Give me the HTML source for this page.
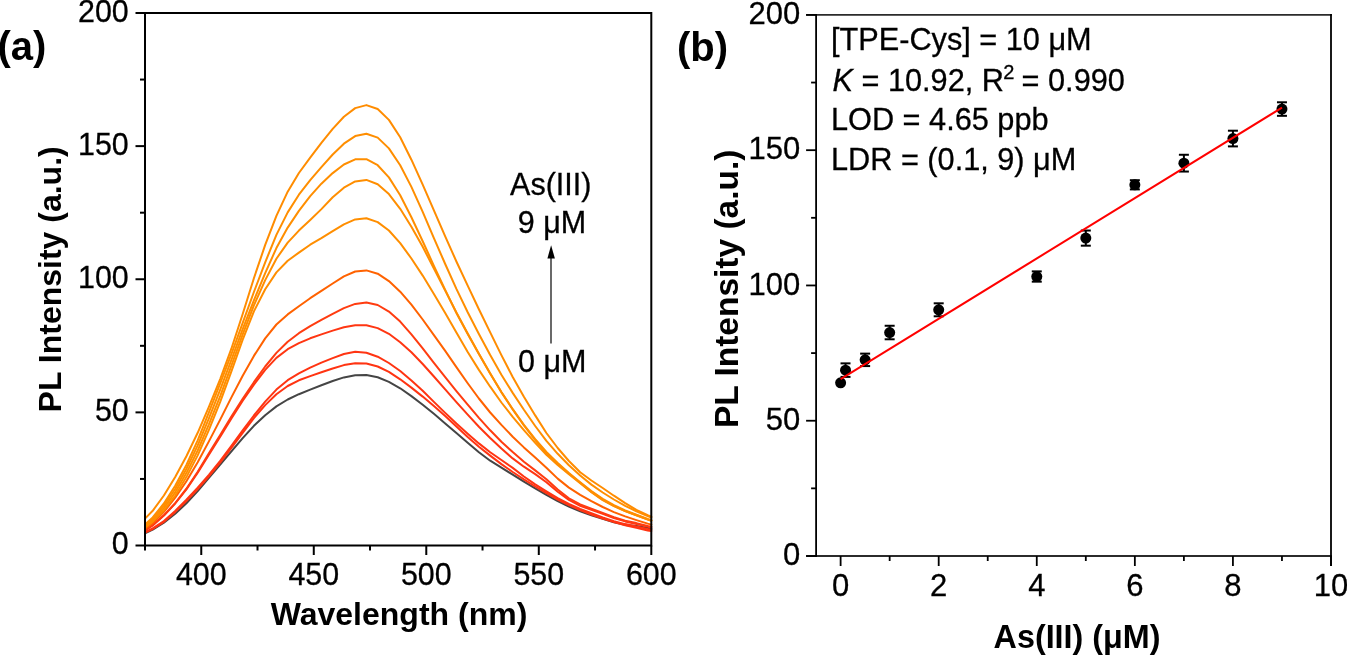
<!DOCTYPE html><html><head><meta charset="utf-8"><style>html,body{margin:0;padding:0;background:#fff;width:1347px;height:655px;overflow:hidden}svg{display:block;will-change:transform}text{font-family:"Liberation Sans",sans-serif}</style></head><body>
<svg width="1347" height="655" viewBox="0 0 1347 655">
<rect width="1347" height="655" fill="#fff"/>
<path d="M145.0,533.3 L152.7,529.7 L163.9,522.6 L175.2,513.8 L186.4,503.3 L197.7,491.1 L208.9,477.8 L220.2,464.5 L231.4,451.3 L242.7,438.1 L253.9,425.8 L265.2,415.2 L276.4,406.4 L287.7,399.5 L298.9,394.2 L310.2,389.6 L321.4,385.3 L332.7,381.0 L343.9,377.4 L355.2,375.2 L366.4,375.1 L377.7,377.3 L388.9,381.9 L400.2,388.3 L411.4,396.1 L422.7,404.7 L433.9,413.8 L445.2,423.4 L456.4,433.1 L467.7,442.7 L478.9,452.3 L490.2,460.7 L501.4,467.7 L512.7,474.7 L523.9,481.7 L535.2,488.4 L546.4,494.8 L557.7,501.2 L568.9,506.6 L580.2,511.3 L591.4,515.2 L602.7,518.9 L613.9,522.3 L625.2,524.9 L636.4,526.0 L647.7,528.0 L651.3,528.7" fill="none" stroke="#454545" stroke-width="2" stroke-linejoin="round" stroke-linecap="round"/>
<path d="M145.0,532.6 L152.7,529.0 L163.9,521.8 L175.2,511.9 L186.4,501.0 L197.7,489.0 L208.9,476.3 L220.2,462.6 L231.4,447.8 L242.7,432.8 L253.9,418.2 L265.2,405.1 L276.4,394.2 L287.7,386.0 L298.9,380.3 L310.2,376.1 L321.4,372.3 L332.7,368.5 L343.9,365.1 L355.2,363.2 L366.4,363.5 L377.7,366.5 L388.9,371.9 L400.2,379.3 L411.4,387.6 L422.7,396.6 L433.9,406.1 L445.2,416.1 L456.4,426.5 L467.7,437.1 L478.9,446.7 L490.2,455.6 L501.4,464.1 L512.7,472.0 L523.9,479.4 L535.2,486.5 L546.4,493.2 L557.7,499.6 L568.9,505.2 L580.2,510.1 L591.4,514.6 L602.7,518.6 L613.9,522.1 L625.2,525.2 L636.4,527.9 L647.7,530.4 L651.3,531.1" fill="none" stroke="#ff3412" stroke-width="2" stroke-linejoin="round" stroke-linecap="round"/>
<path d="M145.0,532.1 L152.7,528.4 L163.9,521.0 L175.2,510.9 L186.4,499.8 L197.7,487.7 L208.9,474.8 L220.2,460.9 L231.4,445.8 L242.7,430.4 L253.9,415.5 L265.2,401.6 L276.4,389.6 L287.7,380.2 L298.9,373.3 L310.2,367.7 L321.4,362.6 L332.7,358.1 L343.9,354.0 L355.2,351.8 L366.4,352.7 L377.7,356.7 L388.9,363.0 L400.2,371.0 L411.4,380.4 L422.7,390.8 L433.9,401.9 L445.2,412.9 L456.4,423.5 L467.7,433.7 L478.9,443.4 L490.2,452.2 L501.4,460.0 L512.7,467.9 L523.9,476.5 L535.2,484.4 L546.4,491.3 L557.7,498.1 L568.9,504.0 L580.2,509.0 L591.4,513.3 L602.7,517.4 L613.9,521.1 L625.2,524.1 L636.4,526.5 L647.7,529.0 L651.3,529.7" fill="none" stroke="#ff3412" stroke-width="2" stroke-linejoin="round" stroke-linecap="round"/>
<path d="M145.0,530.5 L152.7,525.5 L163.9,515.6 L175.2,503.5 L186.4,489.4 L197.7,472.7 L208.9,454.7 L220.2,436.6 L231.4,418.5 L242.7,400.8 L253.9,384.6 L265.2,369.9 L276.4,357.9 L287.7,349.2 L298.9,343.1 L310.2,338.3 L321.4,334.4 L332.7,330.6 L343.9,327.3 L355.2,325.3 L366.4,325.3 L377.7,328.1 L388.9,333.8 L400.2,342.2 L411.4,352.3 L422.7,364.0 L433.9,376.5 L445.2,389.4 L456.4,402.2 L467.7,414.7 L478.9,426.7 L490.2,438.0 L501.4,448.6 L512.7,458.4 L523.9,466.7 L535.2,474.1 L546.4,482.3 L557.7,491.8 L568.9,499.9 L580.2,505.8 L591.4,509.9 L602.7,513.9 L613.9,518.0 L625.2,521.4 L636.4,523.9 L647.7,526.6 L651.3,527.4" fill="none" stroke="#ff3612" stroke-width="2" stroke-linejoin="round" stroke-linecap="round"/>
<path d="M145.0,530.1 L152.7,525.1 L163.9,515.3 L175.2,503.1 L186.4,488.7 L197.7,471.7 L208.9,453.3 L220.2,434.9 L231.4,416.6 L242.7,398.9 L253.9,382.2 L265.2,366.5 L276.4,352.9 L287.7,341.8 L298.9,333.2 L310.2,326.2 L321.4,319.9 L332.7,313.8 L343.9,308.1 L355.2,303.9 L366.4,302.5 L377.7,305.0 L388.9,311.6 L400.2,321.6 L411.4,334.3 L422.7,348.3 L433.9,362.9 L445.2,377.2 L456.4,391.1 L467.7,404.7 L478.9,417.8 L490.2,430.3 L501.4,441.7 L512.7,452.1 L523.9,461.7 L535.2,470.4 L546.4,479.2 L557.7,489.5 L568.9,498.3 L580.2,504.5 L591.4,508.7 L602.7,513.0 L613.9,517.3 L625.2,520.8 L636.4,523.1 L647.7,525.9 L651.3,526.7" fill="none" stroke="#ff3c10" stroke-width="2" stroke-linejoin="round" stroke-linecap="round"/>
<path d="M145.0,529.0 L152.7,523.2 L163.9,511.9 L175.2,497.7 L186.4,481.2 L197.7,462.2 L208.9,441.4 L220.2,419.6 L231.4,397.4 L242.7,375.8 L253.9,355.9 L265.2,338.4 L276.4,324.5 L287.7,314.4 L298.9,306.2 L310.2,298.2 L321.4,290.9 L332.7,283.5 L343.9,276.4 L355.2,271.5 L366.4,270.4 L377.7,273.7 L388.9,281.1 L400.2,291.7 L411.4,304.7 L422.7,319.5 L433.9,335.1 L445.2,350.9 L456.4,367.1 L467.7,383.2 L478.9,398.5 L490.2,412.5 L501.4,424.9 L512.7,436.7 L523.9,447.4 L535.2,457.4 L546.4,467.7 L557.7,478.6 L568.9,487.6 L580.2,494.9 L591.4,501.2 L602.7,507.0 L613.9,512.1 L625.2,516.4 L636.4,520.1 L647.7,523.6 L651.3,524.6" fill="none" stroke="#ff6200" stroke-width="2" stroke-linejoin="round" stroke-linecap="round"/>
<path d="M145.0,527.4 L152.7,521.6 L163.9,510.6 L175.2,495.5 L186.4,477.1 L197.7,455.4 L208.9,429.9 L220.2,401.9 L231.4,371.3 L242.7,339.6 L253.9,311.4 L265.2,289.3 L276.4,272.4 L287.7,260.8 L298.9,252.6 L310.2,244.7 L321.4,238.2 L332.7,231.2 L343.9,224.3 L355.2,219.4 L366.4,218.3 L377.7,222.1 L388.9,230.5 L400.2,243.2 L411.4,258.5 L422.7,275.6 L433.9,293.9 L445.2,313.0 L456.4,332.5 L467.7,352.0 L478.9,369.9 L490.2,386.7 L501.4,402.5 L512.7,416.9 L523.9,430.1 L535.2,442.9 L546.4,454.7 L557.7,465.0 L568.9,474.3 L580.2,483.1 L591.4,492.2 L602.7,500.1 L613.9,506.1 L625.2,511.1 L636.4,515.3 L647.7,519.5 L651.3,520.7" fill="none" stroke="#ff8e00" stroke-width="2" stroke-linejoin="round" stroke-linecap="round"/>
<path d="M145.0,526.5 L152.7,520.2 L163.9,508.2 L175.2,492.3 L186.4,473.1 L197.7,450.5 L208.9,424.3 L220.2,396.1 L231.4,365.7 L242.7,334.4 L253.9,305.4 L265.2,280.1 L276.4,258.7 L287.7,242.6 L298.9,230.6 L310.2,220.0 L321.4,209.1 L332.7,197.3 L343.9,187.7 L355.2,181.4 L366.4,179.9 L377.7,184.2 L388.9,194.1 L400.2,208.8 L411.4,226.7 L422.7,246.8 L433.9,268.5 L445.2,290.6 L456.4,312.4 L467.7,333.5 L478.9,353.8 L490.2,373.5 L501.4,392.2 L512.7,409.4 L523.9,425.3 L535.2,440.0 L546.4,453.0 L557.7,463.7 L568.9,473.5 L580.2,482.8 L591.4,491.9 L602.7,499.6 L613.9,505.9 L625.2,511.1 L636.4,515.3 L647.7,519.4 L651.3,520.6" fill="none" stroke="#ff8e00" stroke-width="2" stroke-linejoin="round" stroke-linecap="round"/>
<path d="M145.0,525.4 L152.7,518.8 L163.9,505.8 L175.2,489.0 L186.4,469.0 L197.7,445.4 L208.9,418.3 L220.2,389.7 L231.4,359.9 L242.7,329.2 L253.9,300.3 L265.2,273.1 L276.4,248.1 L287.7,227.6 L298.9,210.9 L310.2,196.1 L321.4,183.7 L332.7,173.1 L343.9,164.5 L355.2,159.3 L366.4,159.2 L377.7,165.2 L388.9,177.4 L400.2,195.2 L411.4,217.2 L422.7,241.2 L433.9,265.8 L445.2,289.9 L456.4,313.0 L467.7,334.0 L478.9,354.0 L490.2,373.6 L501.4,392.1 L512.7,409.2 L523.9,424.9 L535.2,439.2 L546.4,452.0 L557.7,463.0 L568.9,472.9 L580.2,482.2 L591.4,491.1 L602.7,498.9 L613.9,505.2 L625.2,510.5 L636.4,514.8 L647.7,519.0 L651.3,520.2" fill="none" stroke="#ff8e00" stroke-width="2" stroke-linejoin="round" stroke-linecap="round"/>
<path d="M145.0,524.5 L152.7,517.4 L163.9,503.5 L175.2,485.8 L186.4,465.0 L197.7,440.4 L208.9,412.4 L220.2,383.5 L231.4,354.1 L242.7,322.9 L253.9,292.0 L265.2,262.3 L276.4,234.9 L287.7,212.4 L298.9,194.7 L310.2,180.2 L321.4,167.1 L332.7,154.5 L343.9,143.7 L355.2,136.1 L366.4,133.7 L377.7,137.6 L388.9,148.4 L400.2,165.3 L411.4,186.9 L422.7,211.8 L433.9,238.1 L445.2,264.0 L456.4,288.9 L467.7,312.3 L478.9,334.0 L490.2,355.0 L501.4,374.7 L512.7,392.9 L523.9,409.8 L535.2,426.0 L546.4,440.9 L557.7,453.8 L568.9,465.2 L580.2,475.5 L591.4,484.6 L602.7,492.5 L613.9,499.5 L625.2,505.8 L636.4,511.3 L647.7,516.1 L651.3,517.5" fill="none" stroke="#ff8e00" stroke-width="2" stroke-linejoin="round" stroke-linecap="round"/>
<path d="M145.0,518.6 L152.7,510.8 L163.9,495.5 L175.2,477.0 L186.4,456.2 L197.7,432.8 L208.9,406.8 L220.2,379.1 L231.4,348.7 L242.7,314.0 L253.9,278.2 L265.2,244.9 L276.4,215.8 L287.7,191.7 L298.9,173.0 L310.2,157.6 L321.4,142.9 L332.7,128.9 L343.9,116.7 L355.2,108.1 L366.4,105.1 L377.7,109.0 L388.9,119.9 L400.2,137.3 L411.4,159.7 L422.7,184.6 L433.9,210.4 L445.2,236.3 L456.4,261.5 L467.7,285.6 L478.9,309.3 L490.2,332.4 L501.4,355.1 L512.7,377.0 L523.9,396.7 L535.2,415.4 L546.4,433.0 L557.7,448.0 L568.9,461.0 L580.2,472.2 L591.4,480.5 L602.7,488.0 L613.9,495.7 L625.2,503.1 L636.4,509.9 L647.7,515.1 L651.3,516.6" fill="none" stroke="#ff8c00" stroke-width="2" stroke-linejoin="round" stroke-linecap="round"/>
<g stroke="#000" stroke-width="2.00" fill="none" stroke-linecap="butt">
<rect x="145.00" y="13.00" width="506.30" height="532.50"/>
<line x1="135.50" y1="545.50" x2="145.00" y2="545.50"/>
<line x1="140.00" y1="478.94" x2="145.00" y2="478.94"/>
<line x1="135.50" y1="412.38" x2="145.00" y2="412.38"/>
<line x1="140.00" y1="345.81" x2="145.00" y2="345.81"/>
<line x1="135.50" y1="279.25" x2="145.00" y2="279.25"/>
<line x1="140.00" y1="212.69" x2="145.00" y2="212.69"/>
<line x1="135.50" y1="146.12" x2="145.00" y2="146.12"/>
<line x1="140.00" y1="79.56" x2="145.00" y2="79.56"/>
<line x1="135.50" y1="13.00" x2="145.00" y2="13.00"/>
<line x1="145.00" y1="545.50" x2="145.00" y2="550.50"/>
<line x1="201.26" y1="545.50" x2="201.26" y2="555.00"/>
<line x1="257.51" y1="545.50" x2="257.51" y2="550.50"/>
<line x1="313.77" y1="545.50" x2="313.77" y2="555.00"/>
<line x1="370.02" y1="545.50" x2="370.02" y2="550.50"/>
<line x1="426.28" y1="545.50" x2="426.28" y2="555.00"/>
<line x1="482.53" y1="545.50" x2="482.53" y2="550.50"/>
<line x1="538.79" y1="545.50" x2="538.79" y2="555.00"/>
<line x1="595.04" y1="545.50" x2="595.04" y2="550.50"/>
<line x1="651.30" y1="545.50" x2="651.30" y2="555.00"/>
</g>
<g stroke="#000" stroke-width="1.8" fill="none">
<line x1="806.10" y1="14.90" x2="1331.90" y2="14.90" stroke="#2b2b2b"/>
<line x1="806.10" y1="556.00" x2="1331.90" y2="556.00" stroke="#2b2b2b"/>
<line x1="816.10" y1="14.00" x2="816.10" y2="556.90"/>
<line x1="1331.00" y1="14.00" x2="1331.00" y2="566.00"/>
<line x1="806.10" y1="556.00" x2="816.10" y2="556.00"/>
<line x1="811.10" y1="488.36" x2="816.10" y2="488.36"/>
<line x1="806.10" y1="420.73" x2="816.10" y2="420.73"/>
<line x1="811.10" y1="353.09" x2="816.10" y2="353.09"/>
<line x1="806.10" y1="285.45" x2="816.10" y2="285.45"/>
<line x1="811.10" y1="217.81" x2="816.10" y2="217.81"/>
<line x1="806.10" y1="150.18" x2="816.10" y2="150.18"/>
<line x1="811.10" y1="82.54" x2="816.10" y2="82.54"/>
<line x1="806.10" y1="14.90" x2="816.10" y2="14.90"/>
<line x1="840.62" y1="556.00" x2="840.62" y2="566.00"/>
<line x1="889.66" y1="556.00" x2="889.66" y2="561.00"/>
<line x1="938.70" y1="556.00" x2="938.70" y2="566.00"/>
<line x1="987.73" y1="556.00" x2="987.73" y2="561.00"/>
<line x1="1036.77" y1="556.00" x2="1036.77" y2="566.00"/>
<line x1="1085.81" y1="556.00" x2="1085.81" y2="561.00"/>
<line x1="1134.85" y1="556.00" x2="1134.85" y2="566.00"/>
<line x1="1183.89" y1="556.00" x2="1183.89" y2="561.00"/>
<line x1="1232.92" y1="556.00" x2="1232.92" y2="566.00"/>
<line x1="1281.96" y1="556.00" x2="1281.96" y2="561.00"/>
<line x1="1331.00" y1="556.00" x2="1331.00" y2="566.00"/>
</g>
<g stroke="#000" stroke-width="2" fill="#000">
<circle cx="840.62" cy="382.85" r="5.5" stroke="none"/>
<line x1="845.52" y1="363.37" x2="845.52" y2="376.90"/>
<line x1="840.52" y1="363.37" x2="850.52" y2="363.37"/>
<line x1="840.52" y1="376.90" x2="850.52" y2="376.90"/>
<circle cx="845.52" cy="370.13" r="5.5" stroke="none"/>
<line x1="865.14" y1="353.63" x2="865.14" y2="366.07"/>
<line x1="860.14" y1="353.63" x2="870.14" y2="353.63"/>
<line x1="860.14" y1="366.07" x2="870.14" y2="366.07"/>
<circle cx="865.14" cy="359.85" r="5.5" stroke="none"/>
<line x1="889.66" y1="325.76" x2="889.66" y2="339.29"/>
<line x1="884.66" y1="325.76" x2="894.66" y2="325.76"/>
<line x1="884.66" y1="339.29" x2="894.66" y2="339.29"/>
<circle cx="889.66" cy="332.53" r="5.5" stroke="none"/>
<line x1="938.70" y1="303.31" x2="938.70" y2="316.29"/>
<line x1="933.70" y1="303.31" x2="943.70" y2="303.31"/>
<line x1="933.70" y1="316.29" x2="943.70" y2="316.29"/>
<circle cx="938.70" cy="309.80" r="5.5" stroke="none"/>
<line x1="1036.77" y1="271.38" x2="1036.77" y2="281.66"/>
<line x1="1031.77" y1="271.38" x2="1041.77" y2="271.38"/>
<line x1="1031.77" y1="281.66" x2="1041.77" y2="281.66"/>
<circle cx="1036.77" cy="276.52" r="5.5" stroke="none"/>
<line x1="1085.81" y1="230.53" x2="1085.81" y2="245.68"/>
<line x1="1080.81" y1="230.53" x2="1090.81" y2="230.53"/>
<line x1="1080.81" y1="245.68" x2="1090.81" y2="245.68"/>
<circle cx="1085.81" cy="238.10" r="5.5" stroke="none"/>
<line x1="1134.85" y1="180.21" x2="1134.85" y2="189.40"/>
<line x1="1129.85" y1="180.21" x2="1139.85" y2="180.21"/>
<line x1="1129.85" y1="189.40" x2="1139.85" y2="189.40"/>
<circle cx="1134.85" cy="184.81" r="5.5" stroke="none"/>
<line x1="1183.89" y1="154.77" x2="1183.89" y2="171.55"/>
<line x1="1178.89" y1="154.77" x2="1188.89" y2="154.77"/>
<line x1="1178.89" y1="171.55" x2="1188.89" y2="171.55"/>
<circle cx="1183.89" cy="163.16" r="5.5" stroke="none"/>
<line x1="1232.92" y1="130.70" x2="1232.92" y2="146.39"/>
<line x1="1227.92" y1="130.70" x2="1237.92" y2="130.70"/>
<line x1="1227.92" y1="146.39" x2="1237.92" y2="146.39"/>
<circle cx="1232.92" cy="138.54" r="5.5" stroke="none"/>
<line x1="1281.96" y1="102.29" x2="1281.96" y2="115.82"/>
<line x1="1276.96" y1="102.29" x2="1286.96" y2="102.29"/>
<line x1="1276.96" y1="115.82" x2="1286.96" y2="115.82"/>
<circle cx="1281.96" cy="109.05" r="5.5" stroke="none"/>
</g>
<line x1="840.6" y1="379.1" x2="1282" y2="107.6" stroke="#f00" stroke-width="2"/>
<text transform="translate(-2.50,60.30) scale(1,1.000)" x="0" y="0" font-size="40.00" font-weight="bold" text-anchor="start">(a)</text>
<text transform="translate(128.70,554.10) scale(1,1.050)" x="0" y="0" font-size="30.40" stroke="#000" stroke-width="0.3" text-anchor="end">0</text>
<text transform="translate(128.70,420.98) scale(1,1.050)" x="0" y="0" font-size="30.40" stroke="#000" stroke-width="0.3" text-anchor="end">50</text>
<text transform="translate(128.70,287.85) scale(1,1.050)" x="0" y="0" font-size="30.40" stroke="#000" stroke-width="0.3" text-anchor="end">100</text>
<text transform="translate(128.70,154.72) scale(1,1.050)" x="0" y="0" font-size="30.40" stroke="#000" stroke-width="0.3" text-anchor="end">150</text>
<text transform="translate(128.70,21.60) scale(1,1.050)" x="0" y="0" font-size="30.40" stroke="#000" stroke-width="0.3" text-anchor="end">200</text>
<text transform="translate(201.26,584.80) scale(1,1.050)" x="0" y="0" font-size="30.40" stroke="#000" stroke-width="0.3" text-anchor="middle">400</text>
<text transform="translate(313.77,584.80) scale(1,1.050)" x="0" y="0" font-size="30.40" stroke="#000" stroke-width="0.3" text-anchor="middle">450</text>
<text transform="translate(426.28,584.80) scale(1,1.050)" x="0" y="0" font-size="30.40" stroke="#000" stroke-width="0.3" text-anchor="middle">500</text>
<text transform="translate(538.79,584.80) scale(1,1.050)" x="0" y="0" font-size="30.40" stroke="#000" stroke-width="0.3" text-anchor="middle">550</text>
<text transform="translate(651.30,584.80) scale(1,1.050)" x="0" y="0" font-size="30.40" stroke="#000" stroke-width="0.3" text-anchor="middle">600</text>
<text transform="translate(270.70,625.20) scale(1,1.000)" x="0" y="0" font-size="32.00" font-weight="bold" text-anchor="start">Wavelength (nm)</text>
<text transform="translate(60.90,412.40) rotate(-90)" font-size="32.00" font-weight="bold" x="0" y="0">PL Intensity (a.u.)</text>
<text transform="translate(510.10,194.60) scale(1,1.000)" x="0" y="0" font-size="30.50" stroke="#000" stroke-width="0.3" text-anchor="start">As(III)</text>
<text transform="translate(517.80,232.50) scale(1,1.000)" x="0" y="0" font-size="30.50" stroke="#000" stroke-width="0.3" text-anchor="start">9 μM</text>
<text transform="translate(518.00,371.70) scale(1,1.000)" x="0" y="0" font-size="30.50" stroke="#000" stroke-width="0.3" text-anchor="start">0 μM</text>
<text transform="translate(677.00,60.80) scale(1,1.000)" x="0" y="0" font-size="40.00" font-weight="bold" text-anchor="start">(b)</text>
<text transform="translate(800.30,565.20) scale(1,1.000)" x="0" y="0" font-size="31.00" stroke="#000" stroke-width="0.3" text-anchor="end">0</text>
<text transform="translate(800.30,429.93) scale(1,1.000)" x="0" y="0" font-size="31.00" stroke="#000" stroke-width="0.3" text-anchor="end">50</text>
<text transform="translate(800.30,294.65) scale(1,1.000)" x="0" y="0" font-size="31.00" stroke="#000" stroke-width="0.3" text-anchor="end">100</text>
<text transform="translate(800.30,159.38) scale(1,1.000)" x="0" y="0" font-size="31.00" stroke="#000" stroke-width="0.3" text-anchor="end">150</text>
<text transform="translate(800.30,24.10) scale(1,1.000)" x="0" y="0" font-size="31.00" stroke="#000" stroke-width="0.3" text-anchor="end">200</text>
<text transform="translate(840.62,596.00) scale(1,1.000)" x="0" y="0" font-size="31.00" stroke="#000" stroke-width="0.3" text-anchor="middle">0</text>
<text transform="translate(938.70,596.00) scale(1,1.000)" x="0" y="0" font-size="31.00" stroke="#000" stroke-width="0.3" text-anchor="middle">2</text>
<text transform="translate(1036.77,596.00) scale(1,1.000)" x="0" y="0" font-size="31.00" stroke="#000" stroke-width="0.3" text-anchor="middle">4</text>
<text transform="translate(1134.85,596.00) scale(1,1.000)" x="0" y="0" font-size="31.00" stroke="#000" stroke-width="0.3" text-anchor="middle">6</text>
<text transform="translate(1232.92,596.00) scale(1,1.000)" x="0" y="0" font-size="31.00" stroke="#000" stroke-width="0.3" text-anchor="middle">8</text>
<text transform="translate(1331.00,596.00) scale(1,1.000)" x="0" y="0" font-size="31.00" stroke="#000" stroke-width="0.3" text-anchor="middle">10</text>
<text transform="translate(993.60,648.30) scale(1,1.000)" x="0" y="0" font-size="32.30" font-weight="bold" text-anchor="start">As(III) (μM)</text>
<text transform="translate(738.30,428.10) rotate(-90)" font-size="33.50" font-weight="bold" x="0" y="0">PL Intensity (a.u.)</text>
<text transform="translate(831.00,49.90) scale(1,1.000)" x="0" y="0" font-size="30.70" stroke="#000" stroke-width="0.3" text-anchor="start">[TPE-Cys] = 10 μM</text>
<text x="832.50" y="91.10" font-size="30.70" stroke="#000" stroke-width="0.3"><tspan font-style="italic">K</tspan> = 10.92, R<tspan font-size="20" dy="-12.5" dx="-0.8">2</tspan><tspan dy="12.5" dx="-1.2"> = 0.990</tspan></text>
<text transform="translate(831.00,129.60) scale(1,1.000)" x="0" y="0" font-size="30.70" stroke="#000" stroke-width="0.3" text-anchor="start">LOD = 4.65 ppb</text>
<text transform="translate(831.00,170.00) scale(1,1.000)" x="0" y="0" font-size="30.70" stroke="#000" stroke-width="0.3" text-anchor="start">LDR = (0.1, 9) μM</text>
<line x1="551" y1="343.6" x2="551" y2="257" stroke="#444" stroke-width="1.6"/>
<path d="M547.4,258.5 L554.9,258.5 L551.1,245.3 Z" fill="#000"/>
</svg></body></html>
